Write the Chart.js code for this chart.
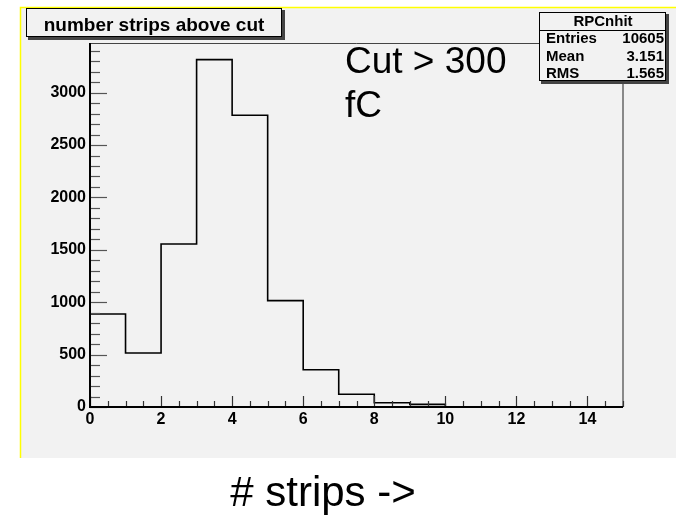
<!DOCTYPE html>
<html>
<head>
<meta charset="utf-8">
<script src="https://cdn.jsdelivr.net/npm/chart.js@4.4.1/dist/chart.umd.min.js"></script>
<style>
  html, body { margin: 0; padding: 0; background: #ffffff; }
  #wrap { position: relative; width: 685px; height: 517px; }
  canvas { display: block; }
</style>
</head>
<body>
<div id="wrap"><canvas id="c" width="685" height="517"></canvas></div>
<script>
// ---- data ----
const binEdges = [0, 1, 2, 3, 4, 5, 6, 7, 8, 9, 10, 11, 12, 13, 14, 15];
const counts   = [888, 515, 1556, 3315, 2784, 1015, 356, 121, 40, 25, 0, 0, 0, 0, 0];
const xTickValues = [0, 2, 4, 6, 8, 10, 12, 14];
const yTickValues = [0, 500, 1000, 1500, 2000, 2500, 3000];
const yMax = 3474;
const titleText = 'number strips above cut';
const statsName = 'RPCnhit';
const statsLabels = ['Entries', 'Mean', 'RMS'];
const statsValues = ['10605', '3.151', '1.565'];
const noteLines = ['Cut > 300', 'fC'];
const xTitle = '# strips ->';

// stepped outline points from bin edges + counts
const histPoints = counts.map((c, i) => ({ x: binEdges[i], y: c }));
histPoints.push({ x: binEdges[binEdges.length - 1], y: counts[counts.length - 1] });

const FONT = '"Liberation Sans", Arial, Helvetica, sans-serif';

const decor = {
  id: 'decor',
  beforeDraw(chart) {
    const ctx = chart.ctx;
    ctx.save();
    ctx.fillStyle = '#f2f2f2';
    ctx.fillRect(20, 7, 656, 451);
    ctx.strokeStyle = '#ffff00';
    ctx.lineWidth = 1.5;
    ctx.beginPath();
    ctx.moveTo(20.5, 458); ctx.lineTo(20.5, 7.5); ctx.lineTo(676, 7.5);
    ctx.stroke();
    ctx.restore();
  },
  afterDatasetsDraw(chart) {
    const ctx = chart.ctx;
    const xs = chart.scales.x, ys = chart.scales.y;
    const a = chart.chartArea;
    ctx.save();
    ctx.strokeStyle = '#444';
    ctx.lineWidth = 1;
    ctx.beginPath();
    ctx.moveTo(a.left, a.top + 0.5); ctx.lineTo(a.right + 0.5, a.top + 0.5);
    ctx.stroke();
    ctx.strokeStyle = '#666';
    ctx.lineWidth = 1.5;
    ctx.beginPath();
    ctx.moveTo(a.right, a.top); ctx.lineTo(a.right, a.bottom);
    ctx.stroke();

    ctx.strokeStyle = '#555';
    ctx.lineWidth = 1.2;
    for (let v = 0; v <= yMax; v += 100) {
      const py = Math.round(ys.getPixelForValue(v)) + 0.5;
      const major = yTickValues.includes(v);
      ctx.beginPath();
      ctx.moveTo(a.left, py);
      ctx.lineTo(a.left + (major ? 17 : 10), py);
      ctx.stroke();
    }
    ctx.strokeStyle = '#333';
    for (let v = 0; v <= 15; v += 0.5) {
      const px = Math.round(xs.getPixelForValue(v)) + 0.5;
      const major = xTickValues.includes(v);
      ctx.beginPath();
      ctx.moveTo(px, a.bottom);
      ctx.lineTo(px, a.bottom - (major ? 11 : 6));
      ctx.stroke();
    }
    ctx.strokeStyle = '#000';
    ctx.lineWidth = 2;
    ctx.beginPath();
    ctx.moveTo(a.left, a.top); ctx.lineTo(a.left, a.bottom); ctx.lineTo(a.right, a.bottom);
    ctx.stroke();

    // title box
    ctx.fillStyle = '#444';
    ctx.fillRect(28, 10, 257, 30);
    ctx.fillStyle = '#f2f2f2';
    ctx.fillRect(26, 8, 256, 29);
    ctx.strokeStyle = '#000';
    ctx.lineWidth = 1;
    ctx.strokeRect(26.5, 8.5, 255, 28);
    ctx.fillStyle = '#000';
    ctx.font = 'bold 19px ' + FONT;
    ctx.textAlign = 'center';
    ctx.textBaseline = 'alphabetic';
    ctx.fillText(titleText, 154, 31);

    // stats box
    ctx.fillStyle = '#444';
    ctx.fillRect(541, 14, 128, 70);
    ctx.fillStyle = '#f2f2f2';
    ctx.fillRect(539, 12, 127, 69);
    ctx.strokeStyle = '#000';
    ctx.lineWidth = 1;
    ctx.strokeRect(539.5, 12.5, 126, 68);
    ctx.beginPath();
    ctx.moveTo(539.5, 30.5); ctx.lineTo(666, 30.5);
    ctx.stroke();
    ctx.fillStyle = '#000';
    ctx.font = 'bold 15px ' + FONT;
    ctx.textAlign = 'center';
    ctx.textBaseline = 'middle';
    ctx.fillText(statsName, 603, 22);
    const rowY = [39, 57, 74];
    statsLabels.forEach((lab, i) => {
      ctx.textAlign = 'left';
      ctx.fillText(lab, 546, rowY[i]);
      ctx.textAlign = 'right';
      ctx.fillText(statsValues[i], 664, rowY[i]);
    });

    // note text
    ctx.font = '37px ' + FONT;
    ctx.textAlign = 'left';
    ctx.textBaseline = 'alphabetic';
    ctx.fillText(noteLines[0], 345, 73);
    ctx.fillText(noteLines[1], 345, 117);

    // x title
    ctx.font = '42px ' + FONT;
    ctx.textAlign = 'center';
    ctx.fillText(xTitle, 323, 506);
    ctx.restore();
  }
};

new Chart(document.getElementById('c'), {
  type: 'line',
  data: {
    datasets: [{
      data: histPoints,
      stepped: true,
      borderColor: '#000',
      borderWidth: 1.6,
      pointRadius: 0,
      fill: false,
      tension: 0
    }]
  },
  options: {
    responsive: false,
    animation: false,
    events: [],
    layout: { padding: { left: 20, right: 62, top: 43, bottom: 80 } },
    plugins: { legend: { display: false }, tooltip: { enabled: false }, title: { display: false } },
    scales: {
      x: {
        type: 'linear',
        min: 0, max: 15,
        afterBuildTicks(s) { s.ticks = xTickValues.map(v => ({ value: v })); },
        afterFit(s) { s.height = 30; },
        grid: { display: false, drawTicks: false },
        border: { display: false },
        ticks: {
          color: '#000', padding: 3, maxRotation: 0, autoSkip: false,
          callback: v => String(v),
          font: { family: FONT, size: 16, weight: 'bold' }
        }
      },
      y: {
        type: 'linear',
        min: 0, max: yMax,
        afterBuildTicks(s) { s.ticks = yTickValues.map(v => ({ value: v })); },
        afterFit(s) { s.width = 70; },
        grid: { display: false, drawTicks: false },
        border: { display: false },
        ticks: {
          color: '#000', padding: 4, autoSkip: false,
          callback: v => String(v),
          font: { family: FONT, size: 16, weight: 'bold' }
        }
      }
    }
  },
  plugins: [decor]
});
</script>
</body>
</html>
